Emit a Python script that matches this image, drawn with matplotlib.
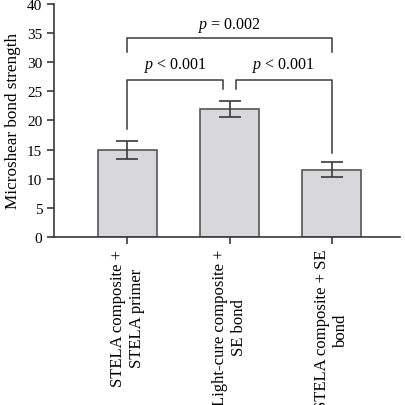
import matplotlib.pyplot as plt

plt.rcParams['font.family'] = ['Liberation Serif', 'DejaVu Serif']
plt.rcParams['mathtext.fontset'] = 'custom'
plt.rcParams['mathtext.it'] = 'Liberation Serif:italic'
plt.rcParams['mathtext.rm'] = 'Liberation Serif'

groups = ['STELA composite +\nSTELA primer',
          'Light-cure composite +\nSE bond',
          'STELA composite + SE\nbond']
means = [14.9, 22.0, 11.55]
errs = [1.6, 1.35, 1.3]

# (left bar, right bar, bracket height, left leg end, right leg end, label)
brackets = [(0, 2, 34.1, 31.7, 31.7, '$p$ = 0.002'),
            (0, 0.94, 27.0, 18.6, 25.4, '$p$ < 0.001'),
            (1.06, 2, 27.0, 25.4, 14.4, '$p$ < 0.001')]

fig = plt.figure(figsize=(4.06, 4.06), dpi=100)
ax = fig.add_axes([0.133, 0.414, 0.852, 0.574])

dark = '#3a3a3a'
x = list(range(len(means)))
ax.bar(x, means, width=0.57, color='#d8d8da', edgecolor='#555555', linewidth=1.2, zorder=2)
ax.errorbar(x, means, yerr=errs, fmt='none', ecolor=dark, elinewidth=1.2,
            capsize=8, capthick=1.2, zorder=3)

for x0, x1, h, l0, l1, txt in brackets:
    ax.plot([x0, x0, x1, x1], [l0, h, h, l1], color=dark, lw=1.1, zorder=3)
ax.text(1.0, 34.9, brackets[0][5], ha='center', va='bottom', fontsize=11.5)
ax.text(0.47, 27.9, brackets[1][5], ha='center', va='bottom', fontsize=11.5)
ax.text(1.53, 27.9, brackets[2][5], ha='center', va='bottom', fontsize=11.5)

ax.set_xlim(-0.72, 2.67)
ax.set_ylim(0, 40)
ax.set_yticks(range(0, 41, 5))
ax.set_xticks(x)
ax.set_xticklabels(groups, rotation=90, fontsize=12)
ax.tick_params(axis='y', labelsize=11, colors=dark, length=5, width=1.2, labelcolor='black')
ax.tick_params(axis='x', colors=dark, length=5, width=1.2, labelcolor='black')
ax.set_ylabel('Microshear bond strength', fontsize=12.3)
for s in ['top', 'right']:
    ax.spines[s].set_visible(False)
for s in ['left', 'bottom']:
    ax.spines[s].set_color(dark)
    ax.spines[s].set_linewidth(1.2)

fig.savefig('out.png', dpi=100)
